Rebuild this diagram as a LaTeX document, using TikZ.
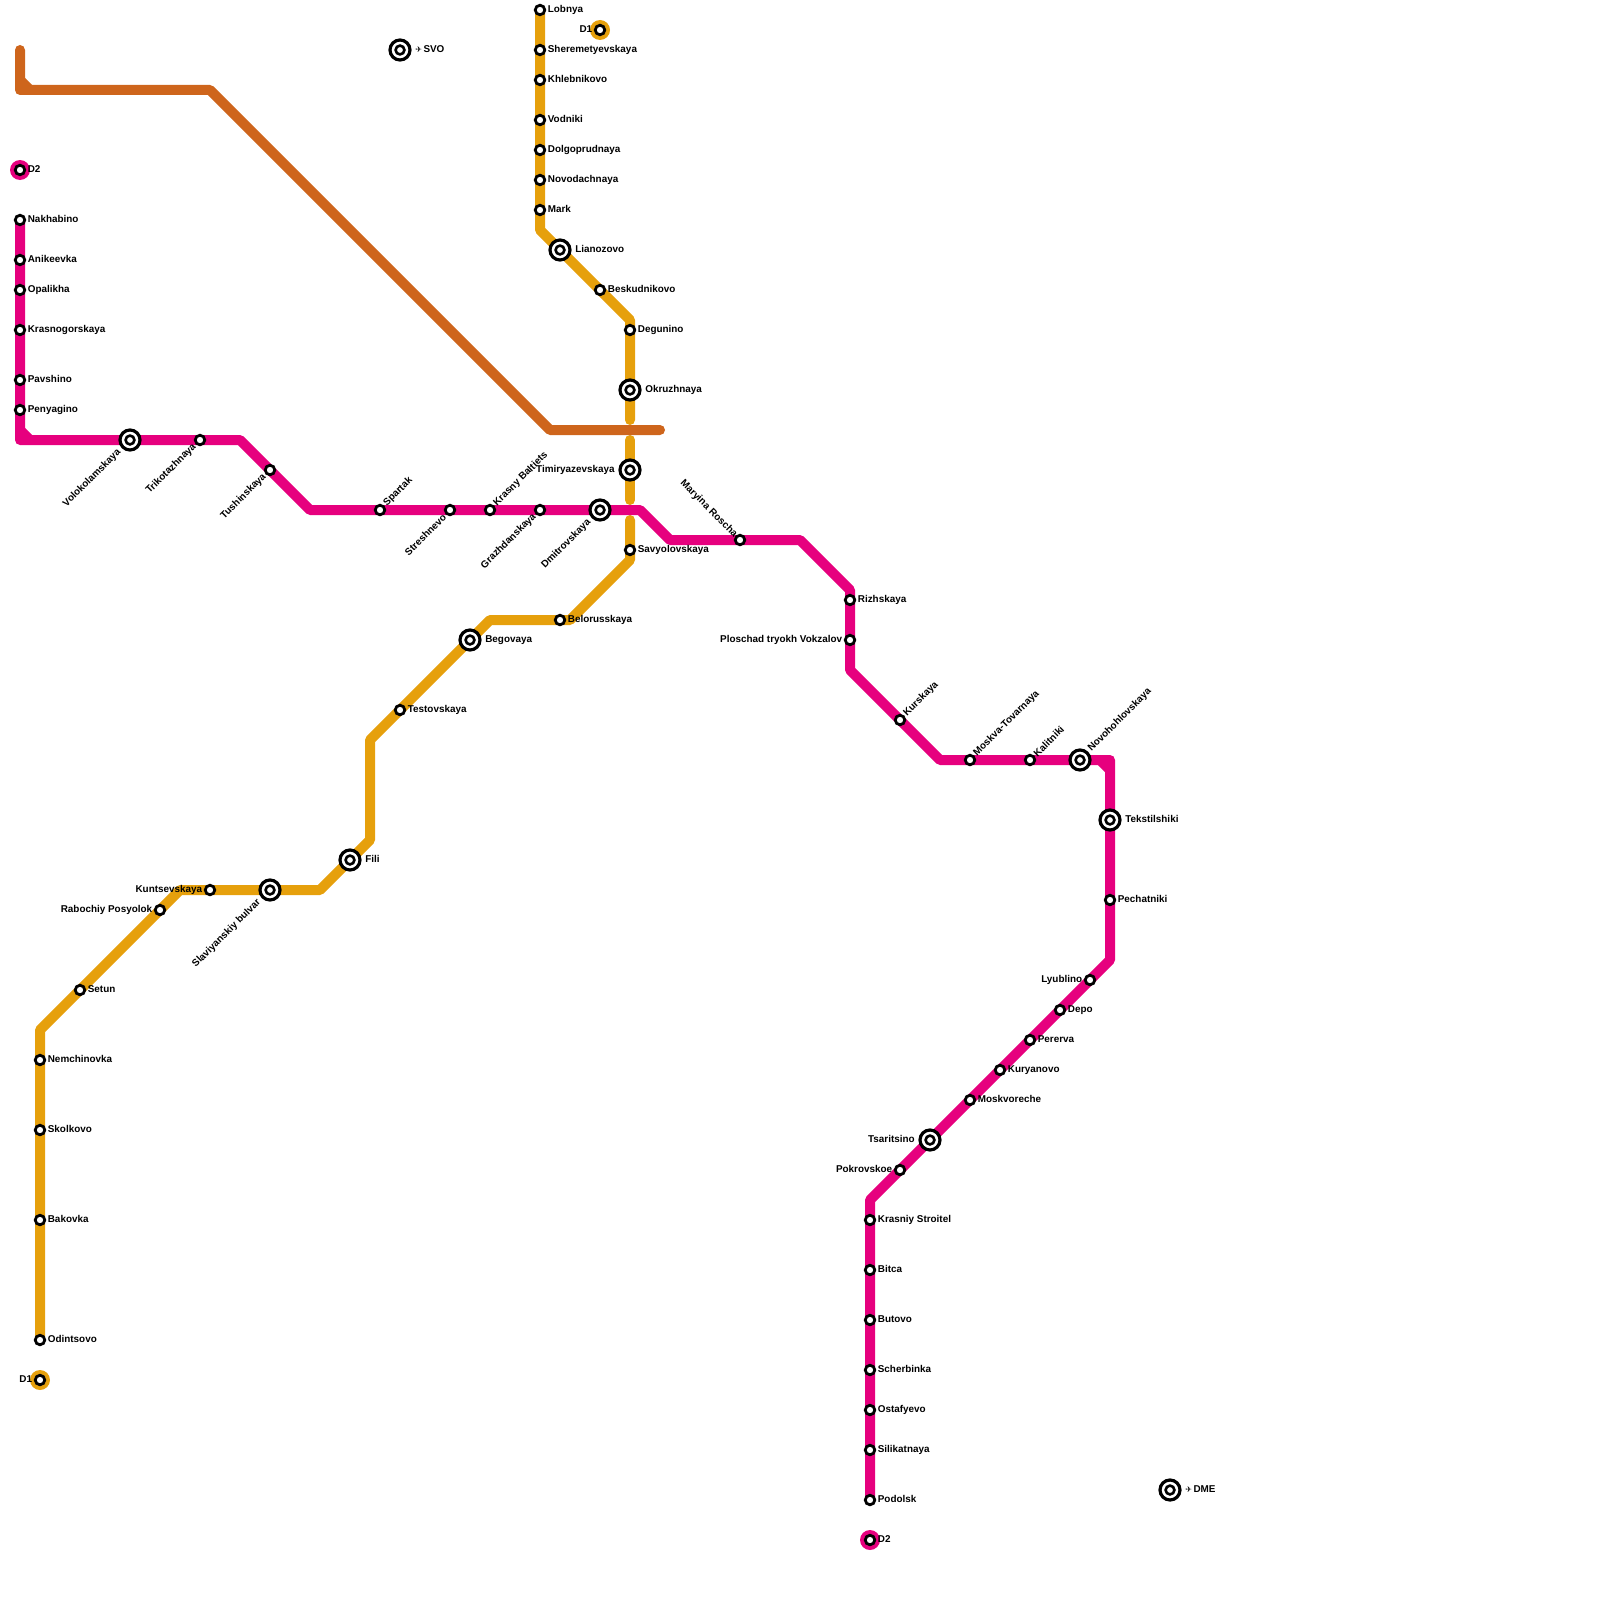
\documentclass[tikz,border=0pt]{standalone}
\usepackage{fontspec}
\setmainfont{Liberation Sans}
\newfontfamily\symfont{DejaVu Sans}
\usetikzlibrary{backgrounds}
\definecolor{pinkline}{HTML}{E6007E}
\definecolor{orangeline}{HTML}{E6A00C}
\definecolor{brownline}{HTML}{CE651C}

\begin{document}
\begin{tikzpicture}[
    x=1pt, y=-1pt,
    station/.style={circle, draw=black, fill=white, line width=2.8pt, minimum size=9.5pt, inner sep=0pt},
    interchange/.style={circle, draw=black, fill=white, line width=3.2pt, minimum size=20pt, inner sep=0pt,
        path picture={\draw[line width=2.6pt] (path picture bounding box.center) circle (4.4pt);}},
    stationtext/.style={font=\bfseries\fontsize{9.9pt}{10pt}\selectfont, text=black, inner sep=0pt},
    lbe/.style={stationtext, anchor=base west, xshift=1.5pt, yshift=-2.3pt},
    lbw/.style={stationtext, anchor=base east, xshift=-1.5pt, yshift=-2.3pt},
    ibe/.style={stationtext, anchor=base west, xshift=3.5pt, yshift=-2.3pt},
    ibw/.style={stationtext, anchor=base east, xshift=-3.5pt, yshift=-2.3pt},
    lbne/.style={stationtext, anchor=west, xshift=0.7pt, yshift=0.7pt, rotate=45},
    ibne/.style={stationtext, anchor=west, xshift=1.5pt, yshift=1.5pt, rotate=45},
    lbsw/.style={stationtext, anchor=east, xshift=-1pt, yshift=-1pt, rotate=45},
    ibsw/.style={stationtext, anchor=east, xshift=-2.5pt, yshift=-2.5pt, rotate=45},
    lbnw/.style={stationtext, anchor=east, rotate=-45},
    metroline/.style={line width=10pt, line cap=round, line join=round},
    cornerfill/.style={line width=10pt}
]
\useasboundingbox (0,0) rectangle (1600,1600);

% Pink line stations
\node[station, label={[lbe]right:D2}] (dtwoa) at (20,170) {};
\node[station, label={[lbe]right:Nakhabino}] (nakhabino) at (20,220) {};
\node[station, label={[lbe]right:Anikeevka}] (anikeevka) at (20,260) {};
\node[station, label={[lbe]right:Opalikha}] (opalikha) at (20,290) {};
\node[station, label={[lbe]right:Krasnogorskaya}] (krasnogorskaya) at (20,330) {};
\node[station, label={[lbe]right:Pavshino}] (pavshino) at (20,380) {};
\node[station, label={[lbe]right:Penyagino}] (penyagino) at (20,410) {};
\node[interchange, label={[ibsw]225:Volokolamskaya}] (volokolamskaya) at (130,440) {};
\node[station, label={[lbsw]225:Trikotazhnaya}] (trikotazhnaya) at (200,440) {};
\node[station, label={[lbsw]225:Tushinskaya}] (tushinskaya) at (270,470) {};
\node[station, label={[lbne]45:Spartak}] (spartak) at (380,510) {};
\node[station, label={[lbsw]225:Streshnevo}] (streshnevo) at (450,510) {};
\node[station, label={[lbne]45:Krasny Baltiets}] (baltiets) at (490,510) {};
\node[station, label={[lbsw]225:Grazhdanskaya}] (grazhdanskaya) at (540,510) {};
\node[interchange, label={[ibsw]225:Dmitrovskaya}] (dmitrovskaya) at (600,510) {};
\node[station, label={[lbnw]135:Maryina Roscha}] (maryina) at (740,540) {};
\node[station, label={[lbe]right:Rizhskaya}] (rizhskaya) at (850,600) {};
\node[station, label={[lbw]left:Ploschad tryokh Vokzalov}] (vokzalov) at (850,640) {};
\node[station, label={[lbne]45:Kurskaya}] (kurskaya) at (900,720) {};
\node[station, label={[lbne]45:Moskva-Tovarnaya}] (tovarnaya) at (970,760) {};
\node[station, label={[lbne]45:Kalitniki}] (kalitniki) at (1030,760) {};
\node[interchange, label={[ibne]45:Novohohlovskaya}] (novohohlovskaya) at (1080,760) {};
\node[interchange, label={[ibe]right:Tekstilshiki}] (tekstilshiki) at (1110,820) {};
\node[station, label={[lbe]right:Pechatniki}] (pechatniki) at (1110,900) {};
\node[station, label={[lbw]left:Lyublino}] (lyublino) at (1090,980) {};
\node[station, label={[lbe]right:Depo}] (depo) at (1060,1010) {};
\node[station, label={[lbe]right:Pererva}] (pererva) at (1030,1040) {};
\node[station, label={[lbe]right:Kuryanovo}] (kuryanovo) at (1000,1070) {};
\node[station, label={[lbe]right:Moskvoreche}] (moskvoreche) at (970,1100) {};
\node[interchange, label={[ibw]left:Tsaritsino}] (tsaritsino) at (930,1140) {};
\node[station, label={[lbw]left:Pokrovskoe}] (pokrovskoe) at (900,1170) {};
\node[station, label={[lbe]right:Krasniy Stroitel}] (stroitel) at (870,1220) {};
\node[station, label={[lbe]right:Bitca}] (bitca) at (870,1270) {};
\node[station, label={[lbe]right:Butovo}] (butovo) at (870,1320) {};
\node[station, label={[lbe]right:Scherbinka}] (scherbinka) at (870,1370) {};
\node[station, label={[lbe]right:Ostafyevo}] (ostafyevo) at (870,1410) {};
\node[station, label={[lbe]right:Silikatnaya}] (silikatnaya) at (870,1450) {};
\node[station, label={[lbe]right:Podolsk}] (podolsk) at (870,1500) {};
\node[station, label={[lbe]right:D2}] (dtwob) at (870,1540) {};

% Orange line stations
\node[station, label={[lbw]left:D1}] (donea) at (600,30) {};
\node[station, label={[lbe]right:Lobnya}] (lobnya) at (540,10) {};
\node[station, label={[lbe]right:Sheremetyevskaya}] (sheremetyevskaya) at (540,50) {};
\node[station, label={[lbe]right:Khlebnikovo}] (khlebnikovo) at (540,80) {};
\node[station, label={[lbe]right:Vodniki}] (vodniki) at (540,120) {};
\node[station, label={[lbe]right:Dolgoprudnaya}] (dolgoprudnaya) at (540,150) {};
\node[station, label={[lbe]right:Novodachnaya}] (novodachnaya) at (540,180) {};
\node[station, label={[lbe]right:Mark}] (mark) at (540,210) {};
\node[interchange, label={[ibe]right:Lianozovo}] (lianozovo) at (560,250) {};
\node[station, label={[lbe]right:Beskudnikovo}] (beskudnikovo) at (600,290) {};
\node[station, label={[lbe]right:Degunino}] (degunino) at (630,330) {};
\node[interchange, label={[ibe]right:Okruzhnaya}] (okruzhnaya) at (630,390) {};
\node[interchange, label={[ibw]left:Timiryazevskaya}] (timiryazevskaya) at (630,470) {};
\node[station, label={[lbe]right:Savyolovskaya}] (savyolovskaya) at (630,550) {};
\node[station, label={[lbe]right:Belorusskaya}] (belorusskaya) at (560,620) {};
\node[interchange, label={[ibe]right:Begovaya}] (begovaya) at (470,640) {};
\node[station, label={[lbe]right:Testovskaya}] (testovskaya) at (400,710) {};
\node[interchange, label={[ibe]right:Fili}] (fili) at (350,860) {};
\node[interchange, label={[ibsw]225:Slaviyanskiy bulvar}] (slaviyanskiy) at (270,890) {};
\node[station, label={[lbw]left:Kuntsevskaya}] (kuntsevskaya) at (210,890) {};
\node[station, label={[lbw]left:Rabochiy Posyolok}] (posyolok) at (160,910) {};
\node[station, label={[lbe]right:Setun}] (setun) at (80,990) {};
\node[station, label={[lbe]right:Nemchinovka}] (nemchinovka) at (40,1060) {};
\node[station, label={[lbe]right:Skolkovo}] (skolkovo) at (40,1130) {};
\node[station, label={[lbe]right:Bakovka}] (bakovka) at (40,1220) {};
\node[station, label={[lbe]right:Odintsovo}] (odintsovo) at (40,1340) {};
\node[station, label={[lbw]left:D1}] (doneb) at (40,1380) {};

% Airports
\node[interchange, label={[ibe]right:{\symfont\mdseries\fontsize{8pt}{8pt}\selectfont ✈}\hspace{1.5pt}SVO}] (svo) at (400,50) {};
\node[interchange, label={[ibe]right:{\symfont\mdseries\fontsize{8pt}{8pt}\selectfont ✈}\hspace{1.5pt}DME}] (dme) at (1170,1490) {};

% Bends
\coordinate (pinktop) at (20,430);
\coordinate (pinkelbow) at (20,440);
\coordinate (pinktopb) at (30,440);
\coordinate (pinka) at (240,440);
\coordinate (pinkb) at (310,510);
\coordinate (pinkc) at (640,510);
\coordinate (pinkd) at (670,540);
\coordinate (pinke) at (800,540);
\coordinate (pinkf) at (850,590);
\coordinate (pinkg) at (850,670);
\coordinate (pinkh) at (940,760);
\coordinate (pinki) at (1100,760);
\coordinate (pinkelbowb) at (1110,760);
\coordinate (pinkj) at (1110,770);
\coordinate (pinkk) at (1110,960);
\coordinate (pinkl) at (870,1200);

\coordinate (orangea) at (540,230);
\coordinate (orangeb) at (630,320);
\coordinate (orangec) at (630,420);
\coordinate (oranged) at (630,440);
\coordinate (orangee) at (630,500);
\coordinate (orangef) at (630,520);
\coordinate (orangeg) at (630,560);
\coordinate (orangeh) at (570,620);
\coordinate (orangei) at (490,620);
\coordinate (orangej) at (370,740);
\coordinate (orangek) at (370,840);
\coordinate (orangel) at (320,890);
\coordinate (orangem) at (180,890);
\coordinate (orangen) at (40,1030);

\coordinate (browna) at (20,50);
\coordinate (brownb) at (20,80);
\coordinate (brownelbow) at (20,90);
\coordinate (brownc) at (30,90);
\coordinate (brownd) at (210,90);
\coordinate (browne) at (550,430);
\coordinate (brownf) at (660,430);

% Lines
\begin{scope}[on background layer]
\fill[pinkline] (dtwoa) circle (10);
\fill[pinkline] (dtwob) circle (10);
\fill[orangeline] (donea) circle (10);
\fill[orangeline] (doneb) circle (10);
\draw[metroline, orangeline] (lobnya.center) -- (orangea) -- (orangeb) -- (orangec);
\draw[metroline, orangeline] (oranged) -- (orangee);
\draw[metroline, orangeline] (orangef) -- (orangeg) -- (orangeh) -- (orangei) -- (orangej) -- (orangek) -- (orangel) -- (orangem) -- (orangen) -- (odintsovo.center);
\draw[metroline, pinkline] (nakhabino.center) -- (pinkelbow) -- (pinka) -- (pinkb) -- (pinkc) -- (pinkd) -- (pinke) -- (pinkf) -- (pinkg) -- (pinkh) -- (pinkelbowb) -- (pinkk) -- (pinkl) -- (podolsk.center);
\draw[cornerfill, pinkline] (pinktop) -- (pinktopb);
\draw[cornerfill, pinkline] (pinki) -- (pinkj);
\draw[metroline, brownline] (browna) -- (brownelbow) -- (brownd) -- (browne) -- (brownf);
\draw[cornerfill, brownline] (brownb) -- (brownc);
\end{scope}

\end{tikzpicture}
\end{document}
